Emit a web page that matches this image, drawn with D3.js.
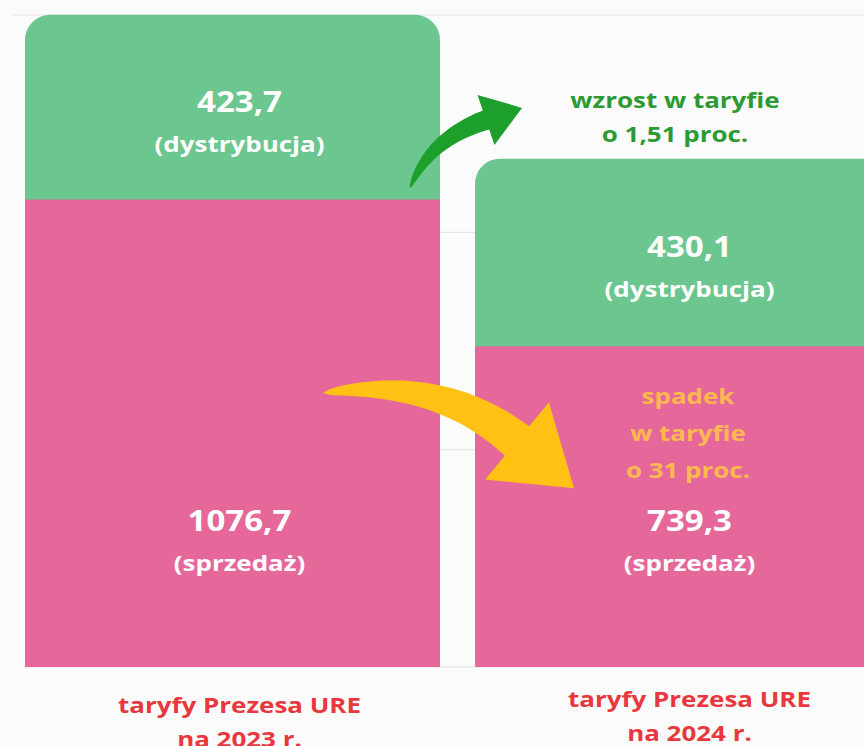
<!DOCTYPE html>
<html>
<head>
<meta charset="utf-8">
<script src="https://cdn.jsdelivr.net/npm/d3@7"></script>
<style>
  body { margin: 0; background: #fbfbfb; }
  text { font-family: "Open Sans", sans-serif; font-weight: 700; }
</style>
</head>
<body>
<svg id="chart"></svg>
<script>
// tariff components (PLN/MWh)
const years = ["2023", "2024"];
const distribution = [423.7, 430.1];
const sales = [1076.7, 739.3];
const distLabels = ["423,7", "430,1"];
const salesLabels = ["1076,7", "739,3"];
const distName = "(dystrybucja)";
const salesName = "(sprzedaż)";
const categoryLabels = [["taryfy Prezesa URE", "na 2023 r."], ["taryfy Prezesa URE", "na 2024 r."]];
const gridTicks = [0, 500, 1000, 1500];
const riseNote = ["wzrost w taryfie", "o 1,51 proc."];
const dropNote = ["spadek", "w taryfie", "o 31 proc."];

const width = 864, height = 746;
const colors = {green: "#6cc68f", pink: "#e6689a", greenArrow: "#1c9f2b", yellowArrow: "#ffc114",
                greenText: "#2b9a34", orangeText: "#fdb850", red: "#e8383d", grid: "#e6e6e6"};
const stretch = 1.18; // the source font is wider than Open Sans

const svg = d3.select("#chart")
    .attr("width", width)
    .attr("height", height)
    .attr("viewBox", [0, 0, width, height]);

const x = d3.scaleBand().domain(years).range([25, 890]).paddingInner(35 / 450).paddingOuter(0);
const y = d3.scaleLinear().domain([0, 1500]).range([667, 15]);

// gridlines (only the top one shows left of the bars)
svg.append("g")
  .selectAll("line")
  .data(gridTicks)
  .join("line")
    .attr("x1", d => d === 1500 ? 12 : 25)
    .attr("x2", width)
    .attr("y1", d => y(d))
    .attr("y2", d => y(d))
    .attr("stroke", colors.grid)
    .attr("stroke-width", 1.2);

function roundTop(x0, x1, yTop, yBot, r) {
  const p = d3.path();
  p.moveTo(x0, yBot);
  p.lineTo(x0, yTop + r);
  p.arcTo(x0, yTop, x0 + r, yTop, r);
  p.lineTo(x1 - r, yTop);
  p.arcTo(x1, yTop, x1, yTop + r, r);
  p.lineTo(x1, yBot);
  p.closePath();
  return p.toString();
}

const bars = svg.append("g");
bars.selectAll(".sales")
  .data(years)
  .join("rect")
    .attr("class", "sales")
    .attr("x", d => x(d))
    .attr("width", x.bandwidth())
    .attr("y", (d, i) => y(sales[i]))
    .attr("height", (d, i) => y(0) - y(sales[i]))
    .attr("fill", colors.pink);
bars.selectAll(".dist")
  .data(years)
  .join("path")
    .attr("class", "dist")
    .attr("d", (d, i) => roundTop(x(d), x(d) + x.bandwidth(), y(sales[i] + distribution[i]), y(sales[i]) + 0.5, 25))
    .attr("fill", colors.green);

function label(g, cx, cy, str, size, fill) {
  g.append("text")
    .attr("transform", `translate(${cx},${cy}) scale(${stretch},1)`)
    .attr("text-anchor", "middle")
    .attr("font-size", size)
    .attr("fill", fill)
    .text(str);
}

const texts = svg.append("g");
years.forEach((yr, i) => {
  const cx = x(yr) + x.bandwidth() / 2 + 7;
  const mid = (y(sales[i] + distribution[i]) + y(sales[i])) / 2;
  label(texts, cx, mid + 5, distLabels[i], 28, "#fff");
  label(texts, cx, mid + 45, distName, 22, "#fff");
  label(texts, cx, y(0) - 136, salesLabels[i], 28, "#fff");
  label(texts, cx, y(0) - 96, salesName, 22, "#fff");
  const shift = i === 0 ? 0 : -6;
  categoryLabels[i].forEach((s, j) => label(texts, cx, y(0) + 46 + shift + j * 34, s, 22, colors.red));
});

// annotations
const right = x(years[1]);
riseNote.forEach((s, j) => label(texts, right + 200, 108 + j * 34, s, 22, colors.greenText));
dropNote.forEach((s, j) => label(texts, right + 213, y(sales[1]) + 58 + j * 37, s, 22, colors.orangeText));

// tapered curved arrow
function arrow(p0, c, p1, shaftW, headW, headLen) {
  const n = 40, L = [], R = [];
  for (let k = 0; k <= n; k++) {
    const t = k / n;
    const bx = (1 - t) ** 2 * p0[0] + 2 * (1 - t) * t * c[0] + t * t * p1[0];
    const by = (1 - t) ** 2 * p0[1] + 2 * (1 - t) * t * c[1] + t * t * p1[1];
    let dx = 2 * (1 - t) * (c[0] - p0[0]) + 2 * t * (p1[0] - c[0]);
    let dy = 2 * (1 - t) * (c[1] - p0[1]) + 2 * t * (p1[1] - c[1]);
    const len = Math.hypot(dx, dy); dx /= len; dy /= len;
    const w = shaftW / 2 * Math.pow(t, 0.55);
    L.push([bx - dy * w, by + dx * w]);
    R.push([bx + dy * w, by - dx * w]);
  }
  let ux = p1[0] - c[0], uy = p1[1] - c[1];
  const ul = Math.hypot(ux, uy); ux /= ul; uy /= ul;
  const pts = [...L,
    [p1[0] - uy * headW / 2, p1[1] + ux * headW / 2],
    [p1[0] + ux * headLen, p1[1] + uy * headLen],
    [p1[0] + uy * headW / 2, p1[1] - ux * headW / 2],
    ...R.reverse()];
  return d3.line()(pts) + "Z";
}

const leftEdge = x(years[0]) + x.bandwidth();
svg.append("path")
  .attr("d", arrow([leftEdge - 30, y(sales[0]) - 11], [leftEdge - 10.5, 139], [leftEdge + 46, 120], 20, 53, 38))
  .attr("fill", colors.greenArrow);
svg.append("path")
  .attr("d", arrow([leftEdge - 117, 393], [leftEdge - 1.5, 376], [leftEdge + 77, 441], 38, 100, 74))
  .attr("fill", colors.yellowArrow);
</script>
</body>
</html>
